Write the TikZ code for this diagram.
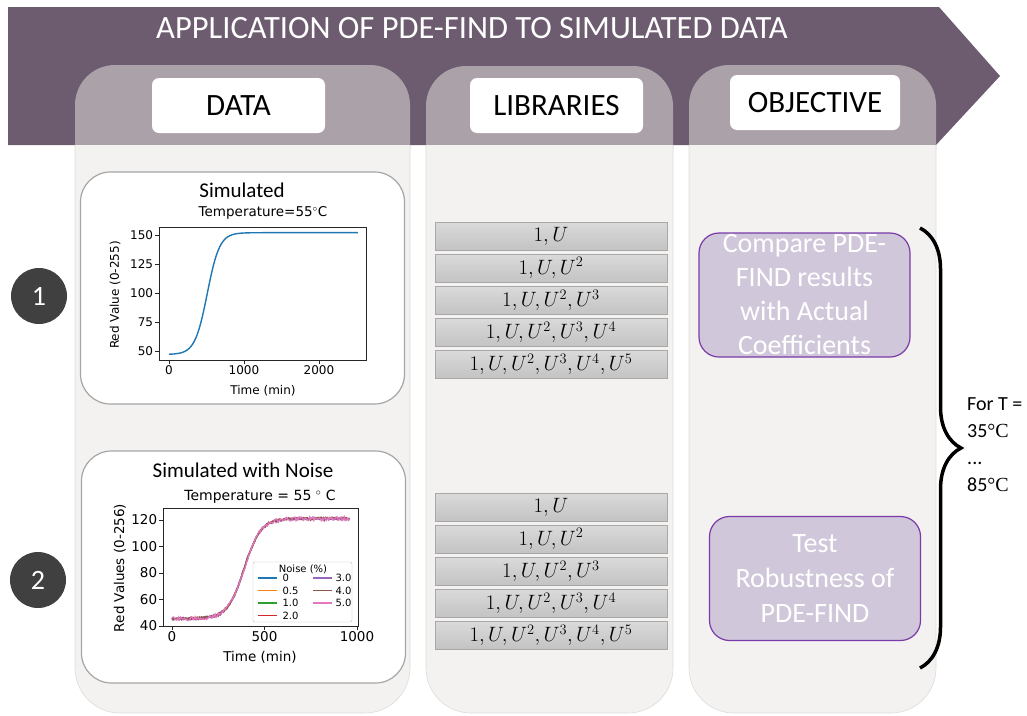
\documentclass[tikz,border=0pt]{standalone}
\usepackage{amsmath,amssymb}
\usepackage{fontspec}
\setmainfont{Carlito}
\newfontfamily\plotfont{DejaVu Sans}
\newfontfamily\degfont{Liberation Serif}
\usetikzlibrary{arrows.meta, calc, decorations.pathreplacing, positioning, shadings}

\definecolor{banner}{HTML}{6D5B6F}
\definecolor{tabcol}{HTML}{ABA1A9}
\definecolor{bodycol}{HTML}{F3F2F1}
\definecolor{bodyline}{HTML}{DEDCDA}
\definecolor{cardline}{HTML}{A6A6A6}
\definecolor{numcol}{HTML}{404040}
\definecolor{libtop}{HTML}{DADADA}
\definecolor{libbot}{HTML}{C3C3C3}
\definecolor{libline}{HTML}{A8A8A8}
\definecolor{objfill}{HTML}{D0C8DA}
\definecolor{objline}{HTML}{7A3AAA}
\definecolor{mblue}{HTML}{1F77B4}
\definecolor{morange}{HTML}{FF7F0E}
\definecolor{mgreen}{HTML}{2CA02C}
\definecolor{mred}{HTML}{D62728}
\definecolor{mpurple}{HTML}{9467BD}
\definecolor{mbrown}{HTML}{8C564B}
\definecolor{mpink}{HTML}{E377C2}

\begin{document}
\begin{tikzpicture}[x=1pt, y=-1pt,
      tab/.style={fill=tabcol, rounded corners=40pt},
      colbody/.style={fill=bodycol, draw=bodyline, line width=0.6pt, rounded corners=45pt},
      headbox/.style={fill=white, rounded corners=7pt, minimum width=173pt, minimum height=55pt,
        font=\fontsize{31}{36}\selectfont},
      card/.style={draw=cardline, line width=1.2pt, fill=white, rounded corners=30pt,
        minimum width=324pt, minimum height=232pt},
      num/.style={circle, fill=numcol, text=white, minimum size=56pt, inner sep=0pt,
        font=\fontsize{28}{32}\selectfont},
      libbox/.style={draw=libline, line width=0.6pt, top color=libtop, bottom color=libbot,
        minimum width=232pt, minimum height=28pt, inner sep=0pt, font=\fontsize{21.5}{22}\selectfont},
      objbox/.style={draw=objline, line width=1.2pt, fill=objfill, rounded corners=20pt,
        minimum width=211pt, minimum height=124pt},
      objtext/.style={text=white, align=center, inner sep=0pt, font=\fontsize{28}{34}\selectfont},
      ptitle/.style={font=\fontsize{21}{24}\selectfont},
      ptext/.style={font=\plotfont\fontsize{12}{14}\selectfont},
      qtext/.style={font=\plotfont\fontsize{13.5}{15}\selectfont},
      leg/.style={font=\plotfont\fontsize{10}{11}\selectfont, inner sep=0pt},
      frame/.style={draw=black!85, line width=0.8pt},
      curve/.style={line width=1.4pt}
    ]
\useasboundingbox (0,0) rectangle (1027,715);

% Banner
      \fill[banner] (8,7) -- (939,7) -- (1000,76) -- (936,145) -- (8,145) -- cycle;
      \node[text=white, font=\fontsize{32.5}{38}\selectfont] (title) at (472,28)
        {APPLICATION OF PDE-FIND TO SIMULATED DATA};

% Columns
      \fill[tab] (75,150) -- (75,65) -- (410,65) -- (410,150);
      \fill[tab] (426,150) -- (426,66) -- (673,66) -- (673,150);
      \fill[tab] (689,150) -- (689,65) -- (936,65) -- (936,150);
      \path[colbody] (75,145) -- (75,713) -- (410,713) -- (410,145);
      \path[colbody] (426,145) -- (426,713) -- (673,713) -- (673,145);
      \path[colbody] (689,145) -- (689,713) -- (936,713) -- (936,145);

      \node[headbox] (datalab) at (238.5,105.5) {DATA};
      \node[headbox] (liblab) at (556.5,105.5) {LIBRARIES};
      \node[headbox, minimum width=170pt] (objlab) at (815,102.5) {OBJECTIVE};

% Cases
      \node[num] (one) at (39,296) {1};
      \node[num] (two) at (38,580) {2};

% Data cards
      \node[card] (cardA) at (242.5,288) {};
      \node[card] (cardB) at (243.5,567) {};

% Plot 1
      \node[ptitle] (simA) at (242,190) {Simulated};
      \node[ptext, font=\plotfont\fontsize{13.5}{15}\selectfont] (tempA) at (263,213) {Temperature=55$^\circ$C};
      \draw[mblue, curve] plot[domain=0:2520, samples=120]
        ({169+0.075*\x}, {351-1.16*(47+105/(1+exp(max(-9,min(9,(510-\x)/82)))) - 50)});
      \draw[frame] (159,227) rectangle (366,360);
      \foreach \px/\lab in {169/0, 244/1000, 319/2000}
        \draw[frame] (\px,360) -- (\px,364) node[ptext, below, inner sep=1pt] {\lab};
      \foreach \py/\lab in {235/150, 264/125, 293/100, 322/75, 351/50}
        \draw[frame] (159,\py) -- (155,\py) node[ptext, left, inner sep=1.5pt] {\lab};
      \node[ptext] (timeA) at (263,391) {Time (min)};
      \node[ptext, rotate=90] (redA) at (115,295) {Red Value (0-255)};

% Plot 2
      \node[ptitle] (simB) at (243,470) {Simulated with Noise};
      \node[qtext, font=\plotfont\fontsize{14}{15}\selectfont] (tempB) at (260,497) {Temperature = 55 $^\circ$ C};
      \pgfmathsetseed{7}
      \foreach \c/\a in {mblue/0, morange/0.4, mgreen/0.6, mred/0.8, mpurple/1.0, mbrown/1.2, mpink/1.5}
        \draw[\c, line width=1.2pt] plot[domain=0:960, samples=170]
          ({172+0.185*\x}, {626-1.325*(45.5+75.5/(1+exp(max(-9,min(9,(390-\x)/45)))) + \a*rand - 40)});
      \draw[frame] (163,508) rectangle (358,626);
      \foreach \px/\lab in {172/0, 264.5/500, 357/1000}
        \draw[frame] (\px,626) -- (\px,630) node[qtext, below, inner sep=1pt] {\lab};
      \foreach \py/\lab in {520/120, 546.5/100, 573/80, 599.5/60, 626/40}
        \draw[frame] (163,\py) -- (159,\py) node[qtext, left, inner sep=1.5pt] {\lab};
      \node[qtext] (timeB) at (260,657) {Time (min)};
      \node[qtext, rotate=90] (redB) at (120,568) {Red Values (0-256)};

% Legend
      \draw[black!25, fill=white, rounded corners=2pt] (253,562) rectangle (352,622);
      \node[leg] (noise) at (303,569) {Noise (\%)};
      \foreach \c/\lab/\ly in {mblue/0/578, morange/0.5/590.5, mgreen/1.0/603, mred/2.0/615.5}
        \draw[\c, line width=1.2pt] (258,\ly) -- (277,\ly) node[leg, right=5pt, text=black] {\lab};
      \foreach \c/\lab/\ly in {mpurple/3.0/578, mbrown/4.0/590.5, mpink/5.0/603}
        \draw[\c, line width=1.2pt] (313,\ly) -- (332,\ly) node[leg, right=3pt, text=black] {\lab};

% Libraries
      \node[libbox] (libA1) at (551,236) {$1,U$};
      \node[libbox, below=3.5pt of libA1] (libA2) {$1,U,U^2$};
      \node[libbox, below=3.5pt of libA2] (libA3) {$1,U,U^2,U^3$};
      \node[libbox, below=3.5pt of libA3] (libA4) {$1,U,U^2,U^3,U^4$};
      \node[libbox, below=3.5pt of libA4] (libA5) {$1,U,U^2,U^3,U^4,U^5$};

      \node[libbox] (libB1) at (551,507) {$1,U$};
      \node[libbox, below=3.5pt of libB1] (libB2) {$1,U,U^2$};
      \node[libbox, below=3.5pt of libB2] (libB3) {$1,U,U^2,U^3$};
      \node[libbox, below=3.5pt of libB3] (libB4) {$1,U,U^2,U^3,U^4$};
      \node[libbox, below=3.5pt of libB4] (libB5) {$1,U,U^2,U^3,U^4,U^5$};

% Objectives
      \node[objbox] (compare) at (804.5,295) {};
      \node[objtext] (comparetxt) at (compare.center) {Compare PDE-\\FIND results\\with Actual\\Coefficients};
      \node[objbox] (robust) at (815,578.5) {};
      \node[objtext, font=\fontsize{28}{35}\selectfont] (robusttxt) at (robust.center) {Test\\Robustness of\\PDE-FIND};

% Brace
      \coordinate (bracetop) at (920,228);
      \coordinate (bracebot) at (920,668);
      \draw[line width=3.5pt, decorate, decoration={brace, amplitude=41pt}] (bracetop) -- (bracebot);
      \node[anchor=north west, align=left, inner sep=0pt, font=\fontsize{20}{27}\selectfont] (fort) at (967,397)
        {For T =\\35{\degfont °C}\\...\\85{\degfont °C}};
    \end{tikzpicture}
\end{document}
